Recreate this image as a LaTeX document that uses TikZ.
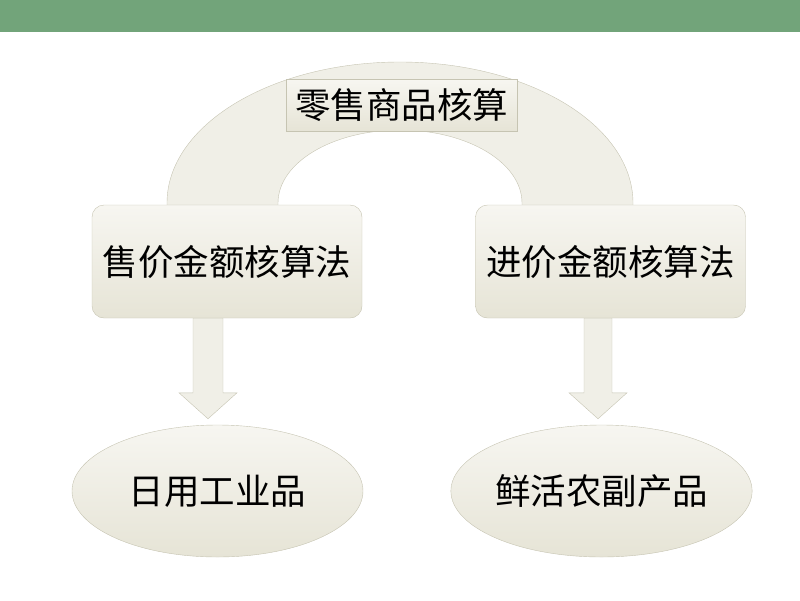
\documentclass[tikz,border=0pt]{standalone}
\usepackage{fontspec}
\newfontfamily\cjk{Noto Sans CJK SC}
\usepackage{xcolor}
\usepackage{tikz}
\usetikzlibrary{positioning, shapes.geometric, backgrounds}
\definecolor{bargreen}{HTML}{72A47A}
\definecolor{boxtop}{HTML}{F7F6F1}
\definecolor{boxbot}{HTML}{E6E4D6}
\definecolor{boxline}{HTML}{C6C4B2}
\definecolor{archfill}{HTML}{F0EFE7}

\begin{document}
\begin{tikzpicture}[
    x=1pt, y=1pt,
    every node/.style={
        font=\cjk\fontsize{35.5}{40}\selectfont,
        inner sep=0pt
    },
    titlebox/.style={draw=boxline, top color=boxtop, bottom color=boxbot,
        minimum width=231pt, minimum height=52pt},
    methodbox/.style={draw=boxline, rounded corners=12pt, top color=boxtop,
        bottom color=boxbot, minimum width=270pt, minimum height=113pt},
    goods/.style={draw=boxline, ellipse, top color=boxtop, bottom color=boxbot,
        minimum width=291pt, minimum height=132pt},
    blockarrow/.style={draw=boxline, fill=archfill, line join=miter}
]

\useasboundingbox (0,0) rectangle (800,-600);

%  Top bar
\fill[bargreen] (0,0) rectangle (800,-32);

%  Arch
\draw[draw=boxline, fill=archfill]
    (167,-215) -- (167,-203) arc[start angle=180, end angle=0, x radius=233, y radius=141]
    -- (633,-215) -- (522,-215) -- (522,-203)
    arc[start angle=0, end angle=180, x radius=122, y radius=73] -- (278,-215) -- cycle;

%  Nodes
\node[titlebox] (title) at (401.5,-105) {零售商品核算};
\node[methodbox] (sale) at (227,-261.5) {售价金额核算法};
\node[methodbox] (cost) at (610.5,-261.5) {进价金额核算法};
\node[goods] (daily) at (217.5,-491) {日用工业品};
\node[goods] (fresh) at (601.5,-491) {鲜活农副产品};

%  Arrow tips
\coordinate (saletip) at ([shift={(-9.5pt,6pt)}]daily.north);
\coordinate (costtip) at ([shift={(-3.5pt,6pt)}]fresh.north);

%  Block arrows
\begin{scope}[on background layer]
\draw[blockarrow] (saletip) -- ++(29,26) -- ++(-14,0) -- ++(0,75)
    -- ++(-30,0) -- ++(0,-75) -- ++(-14,0) -- cycle;
\draw[blockarrow] (costtip) -- ++(29,26) -- ++(-15,0) -- ++(0,75)
    -- ++(-28,0) -- ++(0,-75) -- ++(-15,0) -- cycle;
\end{scope}

\end{tikzpicture}
\end{document}
